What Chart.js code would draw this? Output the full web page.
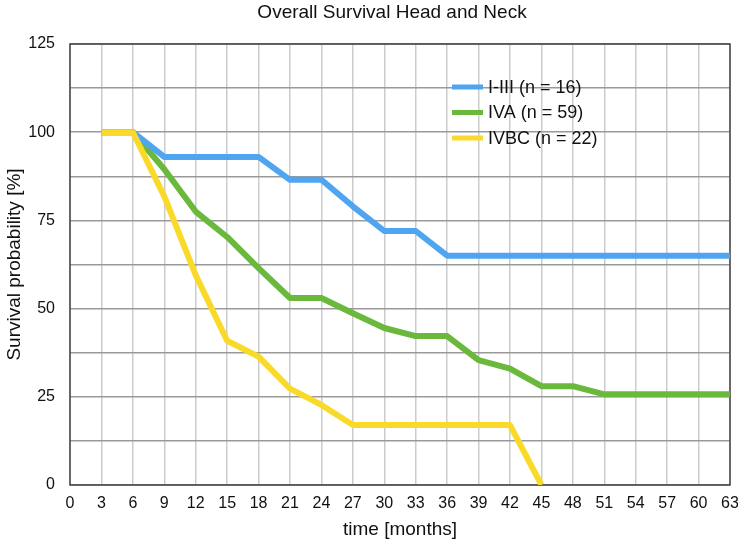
<!DOCTYPE html>
<html>
<head>
<meta charset="utf-8">
<title>Overall Survival Head and Neck</title>
<script src="https://cdn.jsdelivr.net/npm/chart.js@4.4.1/dist/chart.umd.min.js"></script>
<style>
  html, body { margin: 0; padding: 0; background: #fff; }
  #wrap { width: 738px; height: 546px; position: relative; }
</style>
</head>
<body>
<div id="wrap"><canvas id="survivalChart"></canvas></div>
<script>
// ===================================
// Data
// ===================================
const months = [3, 6, 9, 12, 15, 18, 21, 24, 27, 30, 33, 36, 39, 42, 45, 48, 51, 54, 57, 60, 63];

const stageI_III = [100, 100, 93, 93, 93, 93, 86.5, 86.5, 79, 72, 72, 65, 65, 65, 65, 65, 65, 65, 65, 65, 65];
const stageIVA   = [100, 100, 89.5, 77.5, 70.3, 61.5, 53, 53, 48.7, 44.5, 42.2, 42.2, 35.4, 33, 28, 28, 25.7, 25.7, 25.7, 25.7, 25.7];
const stageIVBC  = [100, 100, 81.8, 59.5, 40.9, 36.4, 27.3, 22.7, 17, 17, 17, 17, 17, 17, 0];

const seriesLabels = ['I-III (n = 16)', 'IVA (n = 59)', 'IVBC (n = 22)'];
const seriesColors = ['#4fa5ef', '#6ab83c', '#f9da2a'];

const xTickStep = 3;
const yTickStep = 12.5;   // grid every 12.5, labels every 25
const yLabelStep = 25;

function toPoints(values) {
    return values.map((v, i) => ({ x: months[i], y: v }));
}

const FONT = "'Liberation Sans', Arial, sans-serif";

// ===================================
// Small helper plugin: title, frame, legend inside the plot
// ===================================
const decorations = {
    id: 'decorations',
    beforeDatasetsDraw(chart) {
        const { ctx, chartArea: a } = chart;
        ctx.save();
        ctx.strokeStyle = '#444';
        ctx.lineWidth = 1.5;
        ctx.strokeRect(a.left, a.top, a.right - a.left, a.bottom - a.top);
        ctx.restore();
    },
    afterDatasetsDraw(chart) {
        const { ctx, chartArea: a } = chart;
        ctx.save();

        // title
        ctx.fillStyle = '#111';
        ctx.font = '19px ' + FONT;
        ctx.textAlign = 'center';
        ctx.textBaseline = 'middle';
        ctx.fillText('Overall Survival Head and Neck', (a.left + a.right) / 2 - 8, 13);

        // legend
        ctx.font = '18px ' + FONT;
        ctx.textAlign = 'left';
        const lx = 452, ly = 87, rowH = 25.5;
        seriesLabels.forEach((label, i) => {
            const y = ly + i * rowH;
            ctx.strokeStyle = seriesColors[i];
            ctx.lineWidth = 5;
            ctx.beginPath();
            ctx.moveTo(lx, y);
            ctx.lineTo(lx + 31, y);
            ctx.stroke();
            ctx.fillStyle = '#111';
            ctx.fillText(label, lx + 36, y + 1);
        });
        ctx.restore();
    }
};

// ===================================
// Chart.js
// ===================================
const ctx = document.getElementById('survivalChart').getContext('2d');
const datasetOrder = [1, 2, 0]; // yellow on top

new Chart(ctx, {
    type: 'line',
    data: {
        datasets: [stageI_III, stageIVA, stageIVBC].map((vals, i) => ({
            label: seriesLabels[i],
            data: toPoints(vals),
            borderColor: seriesColors[i],
            backgroundColor: seriesColors[i],
            borderWidth: 6,
            pointRadius: 0,
            tension: 0,
            borderJoinStyle: 'round',
            fill: false,
            order: datasetOrder[i]
        }))
    },
    options: {
        responsive: true,
        maintainAspectRatio: false,
        animation: false,
        layout: { padding: { top: 44, right: 0, left: 0, bottom: 0 } },
        plugins: {
            legend: { display: false },
            title: { display: false },
            tooltip: { enabled: false }
        },
        scales: {
            x: {
                type: 'linear',
                min: 0,
                max: 63,
                afterFit(scale) {
                    scale.height = 61;
                    scale.paddingLeft = 0;
                    scale.paddingRight = 8;
                },
                ticks: {
                    stepSize: xTickStep,
                    color: '#111',
                    font: { family: FONT, size: 16 },
                    padding: 9,
                    maxRotation: 0,
                    autoSkip: false
                },
                grid: { color: '#cccccc', lineWidth: 1.5, drawTicks: false },
                border: { display: false },
                title: {
                    display: true,
                    text: 'time [months]',
                    color: '#111',
                    font: { family: FONT, size: 19 },
                    padding: { top: 0, bottom: 5 }
                }
            },
            y: {
                min: 0,
                max: 125,
                afterFit(scale) { scale.width = 70; },
                ticks: {
                    stepSize: yTickStep,
                    color: '#111',
                    font: { family: FONT, size: 16 },
                    padding: 15,
                    callback: v => (v % yLabelStep === 0 ? v : '')
                },
                grid: { color: '#9a9a9a', lineWidth: 1.5, drawTicks: false },
                border: { display: false },
                title: {
                    display: true,
                    text: 'Survival probability [%]',
                    color: '#111',
                    font: { family: FONT, size: 19 },
                    padding: { top: 3, bottom: 0 }
                }
            }
        }
    },
    plugins: [decorations]
});
</script>
</body>
</html>
